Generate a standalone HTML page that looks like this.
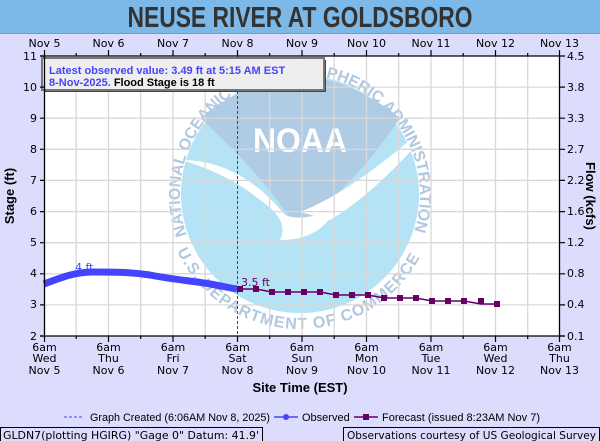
<!DOCTYPE html>
<html><head><meta charset="utf-8"><style>
html,body{margin:0;padding:0;background:#dcdcfc;}
svg{display:block;font-family:"DejaVu Sans","Liberation Sans",sans-serif;}
</style></head><body>
<svg width="600" height="441" viewBox="0 0 600 441" xmlns="http://www.w3.org/2000/svg">
<rect x="0" y="0" width="600" height="441" fill="#dcdcfc"/>
<rect x="0" y="0" width="600" height="33" fill="#7db9e8"/>
<line x1="0" y1="33.5" x2="600" y2="33.5" stroke="#6a9fcb"/>
<text x="300" y="27" text-anchor="middle" font-family="Liberation Sans, sans-serif" font-weight="bold" font-size="29" fill="#333" textLength="345" lengthAdjust="spacingAndGlyphs">NEUSE RIVER AT GOLDSBORO</text>
<rect x="44" y="56" width="516" height="280" fill="#fff"/>
<!-- logo -->
<defs><clipPath id="pc"><rect x="44" y="56" width="516" height="280"/></clipPath>
<path id="ringTop" d="M 187 235 A 120 120 0 1 1 413 235"/>
<path id="ringBot" d="M 177 251 A 136 136 0 0 0 423 251"/></defs>
<g clip-path="url(#pc)">
<circle cx="300" cy="194" r="119" fill="#b3e3f5"/>
<path d="M200,118 Q250,78 300,76 Q350,78 400,118 Q365,170 325,205 Q305,222 295,225 Q258,170 200,118 Z" fill="#b0cce4"/>
<path d="M182,160 Q240,160 285,215 Q300,222 335,210 Q320,240 280,240 Q290,220 260,200 Q230,175 182,160 Z" fill="#fff"/>
<path d="M300,212 Q345,195 410,140 L412,150 Q365,200 330,220 Z" fill="#fff"/>
<text x="300" y="152" text-anchor="middle" font-family="Liberation Sans, sans-serif" font-weight="bold" font-size="34" fill="#fff" textLength="94" lengthAdjust="spacingAndGlyphs">NOAA</text>
<text font-family="Liberation Sans, sans-serif" font-weight="bold" font-size="16" fill="#b0c8e0"><textPath href="#ringTop" textLength="455" lengthAdjust="spacing">NATIONAL OCEANIC AND ATMOSPHERIC ADMINISTRATION</textPath></text>
<text font-family="Liberation Sans, sans-serif" font-weight="bold" font-size="16" fill="#b0c8e0"><textPath href="#ringBot" textLength="300" lengthAdjust="spacing">U.S. DEPARTMENT OF COMMERCE</textPath></text>
</g>
<!-- grid -->
<g stroke="#d8d8d8" stroke-width="1.3">
<line x1="44" y1="87.1" x2="560" y2="87.1"/><line x1="44" y1="118.2" x2="560" y2="118.2"/><line x1="44" y1="149.3" x2="560" y2="149.3"/><line x1="44" y1="180.4" x2="560" y2="180.4"/><line x1="44" y1="211.6" x2="560" y2="211.6"/><line x1="44" y1="242.7" x2="560" y2="242.7"/><line x1="44" y1="273.8" x2="560" y2="273.8"/><line x1="44" y1="304.9" x2="560" y2="304.9"/>
<line x1="76.2" y1="56" x2="76.2" y2="336"/><line x1="108.5" y1="56" x2="108.5" y2="336"/><line x1="140.7" y1="56" x2="140.7" y2="336"/><line x1="173" y1="56" x2="173" y2="336"/><line x1="205.2" y1="56" x2="205.2" y2="336"/><line x1="269.7" y1="56" x2="269.7" y2="336"/><line x1="302" y1="56" x2="302" y2="336"/><line x1="334.2" y1="56" x2="334.2" y2="336"/><line x1="366.5" y1="56" x2="366.5" y2="336"/><line x1="398.7" y1="56" x2="398.7" y2="336"/><line x1="431" y1="56" x2="431" y2="336"/><line x1="463.2" y1="56" x2="463.2" y2="336"/><line x1="495.5" y1="56" x2="495.5" y2="336"/><line x1="527.7" y1="56" x2="527.7" y2="336"/>
</g>
<line x1="237.5" y1="56" x2="237.5" y2="336" stroke="#3333ee" stroke-dasharray="3,2"/>
<!-- observed -->
<path d="M44,284 C60,278 75,272 92,272 C115,272 130,272 150,275 C175,280 195,281 210,284 C222,286 230,288 237,289" fill="none" stroke="#4444ff" stroke-width="7"/>
<text x="75" y="271" font-size="11" fill="#4444ff">4 ft</text>
<!-- forecast -->
<polyline points="240,289 256,289 272,292 288,292 304,292 320,292 336,295 352,295 368,295 384,298 400,298 416,298 432,301 448,301 464,301 481,304 497,304" fill="none" stroke="#660066" stroke-width="1.5"/>
<g fill="#660066">
<rect x="237" y="286" width="6" height="6"/><rect x="253" y="286" width="6" height="6"/><rect x="269" y="289" width="6" height="6"/><rect x="285" y="289" width="6" height="6"/><rect x="301" y="289" width="6" height="6"/><rect x="317" y="289" width="6" height="6"/><rect x="333" y="292" width="6" height="6"/><rect x="349" y="292" width="6" height="6"/><rect x="365" y="292" width="6" height="6"/><rect x="381" y="295" width="6" height="6"/><rect x="397" y="295" width="6" height="6"/><rect x="413" y="295" width="6" height="6"/><rect x="429" y="298" width="6" height="6"/><rect x="445" y="298" width="6" height="6"/><rect x="461" y="298" width="6" height="6"/><rect x="478" y="298" width="6" height="6"/><rect x="494" y="301" width="6" height="6"/>
</g>
<text x="241" y="286" font-size="11" fill="#660066">3.5 ft</text>
<!-- info box -->
<rect x="44" y="60" width="282" height="32" fill="#444"/>
<rect x="42" y="58" width="282" height="32" fill="#eee" stroke="#777" stroke-width="2"/>
<text x="49" y="74" font-family="Liberation Sans, sans-serif" font-weight="bold" font-size="11" fill="#4444ff">Latest observed value: 3.49 ft at 5:15 AM EST</text>
<text x="49" y="86" font-family="Liberation Sans, sans-serif" font-weight="bold" font-size="11" fill="#4444ff">8-Nov-2025. <tspan fill="#000">Flood Stage is 18 ft</tspan></text>
<!-- axes -->
<g stroke="#000" stroke-width="1.3" fill="none">
<line x1="44.5" y1="56" x2="44.5" y2="336"/><line x1="559.5" y1="56" x2="559.5" y2="336"/>
<line x1="40" y1="56" x2="560" y2="56"/><line x1="40" y1="336" x2="564" y2="336"/>
</g>
<g stroke="#000" stroke-width="1.2">
<path d="M40,56h4M40,87.1h4M40,118.2h4M40,149.3h4M40,180.4h4M40,211.6h4M40,242.7h4M40,273.8h4M40,304.9h4M40,336h4"/>
<path d="M560,56h5M560,87.1h5M560,118.2h5M560,149.3h5M560,180.4h5M560,211.6h5M560,242.7h5M560,273.8h5M560,304.9h5M560,336h5"/>
<path d="M44.5,50v6M108.5,50v6M173,50v6M237.5,50v6M302,50v6M366.5,50v6M431,50v6M495.5,50v6M559.5,50v6"/>
<path d="M76.2,53v3M140.7,53v3M205.2,53v3M269.7,53v3M334.2,53v3M398.7,53v3M463.2,53v3M527.7,53v3"/>
<path d="M44.5,336v6M108.5,336v6M173,336v6M237.5,336v6M302,336v6M366.5,336v6M431,336v6M495.5,336v6M559.5,336v6"/>
<path d="M76.2,336v3M140.7,336v3M205.2,336v3M269.7,336v3M334.2,336v3M398.7,336v3M463.2,336v3M527.7,336v3"/>
</g>
<g font-size="11" fill="#000" text-anchor="end">
<text x="37" y="60">11</text><text x="37" y="91">10</text><text x="37" y="122">9</text><text x="37" y="153">8</text><text x="37" y="184">7</text><text x="37" y="215">6</text><text x="37" y="246">5</text><text x="37" y="277">4</text><text x="37" y="308">3</text><text x="37" y="340">2</text>
</g>
<g font-size="11" fill="#000">
<text x="567" y="60">4.5</text><text x="567" y="91">3.8</text><text x="567" y="122">3.3</text><text x="567" y="153">2.7</text><text x="567" y="184">2.2</text><text x="567" y="215">1.6</text><text x="567" y="246">1.2</text><text x="567" y="277">0.8</text><text x="567" y="308">0.4</text><text x="567" y="340">0.1</text>
</g>
<g font-size="11" fill="#000" text-anchor="middle">
<text x="44.5" y="47">Nov  5</text><text x="108.5" y="47">Nov  6</text><text x="173" y="47">Nov  7</text><text x="237.5" y="47">Nov  8</text><text x="302" y="47">Nov  9</text><text x="366.5" y="47">Nov 10</text><text x="431" y="47">Nov 11</text><text x="495.5" y="47">Nov 12</text><text x="559.5" y="47">Nov 13</text>
</g>
<g font-size="11" fill="#000" text-anchor="middle">
<text x="44.5" y="351">6am</text><text x="44.5" y="362">Wed</text><text x="44.5" y="374">Nov 5</text>
<text x="108.5" y="351">6am</text><text x="108.5" y="362">Thu</text><text x="108.5" y="374">Nov 6</text>
<text x="173" y="351">6am</text><text x="173" y="362">Fri</text><text x="173" y="374">Nov 7</text>
<text x="237.5" y="351">6am</text><text x="237.5" y="362">Sat</text><text x="237.5" y="374">Nov 8</text>
<text x="302" y="351">6am</text><text x="302" y="362">Sun</text><text x="302" y="374">Nov 9</text>
<text x="366.5" y="351">6am</text><text x="366.5" y="362">Mon</text><text x="366.5" y="374">Nov 10</text>
<text x="431" y="351">6am</text><text x="431" y="362">Tue</text><text x="431" y="374">Nov 11</text>
<text x="495.5" y="351">6am</text><text x="495.5" y="362">Wed</text><text x="495.5" y="374">Nov 12</text>
<text x="559.5" y="351">6am</text><text x="559.5" y="362">Thu</text><text x="559.5" y="374">Nov 13</text>
</g>
<text x="300" y="392" text-anchor="middle" font-family="Liberation Sans, sans-serif" font-weight="bold" font-size="13" fill="#000">Site Time (EST)</text>
<text transform="translate(14,196) rotate(-90)" text-anchor="middle" font-family="Liberation Sans, sans-serif" font-weight="bold" font-size="13">Stage (ft)</text>
<text transform="translate(586,196) rotate(90)" text-anchor="middle" font-family="Liberation Sans, sans-serif" font-weight="bold" font-size="13">Flow (kcfs)</text>
<!-- legend -->
<line x1="64" y1="417" x2="84" y2="417" stroke="#4444ff" stroke-dasharray="3,2"/>
<text x="90" y="421" font-family="Liberation Sans, sans-serif" font-size="11" fill="#000" textLength="180" lengthAdjust="spacingAndGlyphs">Graph Created (6:06AM Nov 8, 2025)</text>
<line x1="274" y1="417" x2="298" y2="417" stroke="#4444ff" stroke-width="1.5"/><circle cx="286" cy="417" r="3" fill="#4444ff"/>
<text x="302" y="421" font-family="Liberation Sans, sans-serif" font-size="11" fill="#000">Observed</text>
<line x1="354" y1="417" x2="378" y2="417" stroke="#660066" stroke-width="1.5"/><rect x="363" y="414" width="6" height="6" fill="#660066"/>
<text x="382" y="421" font-family="Liberation Sans, sans-serif" font-size="11" fill="#000" textLength="158" lengthAdjust="spacingAndGlyphs">Forecast (issued 8:23AM Nov 7)</text>
<rect x="0.5" y="427.5" width="262" height="14" fill="#dcdcfc" stroke="#000"/>
<text x="3" y="439" font-size="11" fill="#000" textLength="256" lengthAdjust="spacingAndGlyphs">GLDN7(plotting HGIRG) "Gage 0" Datum: 41.9'</text>
<rect x="343.5" y="427.5" width="256" height="14" fill="#dcdcfc" stroke="#000"/>
<text x="347" y="439" font-size="11" fill="#000" textLength="249" lengthAdjust="spacingAndGlyphs">Observations courtesy of US Geological Survey</text>
</svg>
</body></html>
